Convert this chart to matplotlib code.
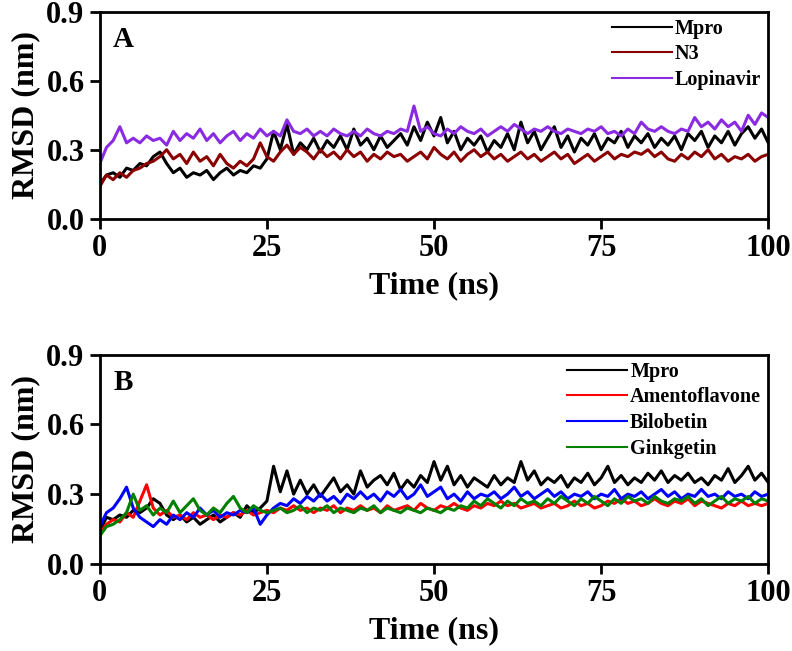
import matplotlib
matplotlib.use('Agg')
import matplotlib.pyplot as plt
import numpy as np

# time axis, 1 ns steps
time_ns = np.arange(0, 101)

# panel A
mpro_a = [0.15, 0.19, 0.20, 0.18, 0.22, 0.21, 0.24, 0.23, 0.27, 0.29,
          0.24, 0.20, 0.22, 0.18, 0.20, 0.19, 0.21, 0.17, 0.20, 0.22,
          0.19, 0.21, 0.20, 0.23, 0.22, 0.26, 0.38, 0.30, 0.41, 0.28,
          0.33, 0.30, 0.35, 0.29, 0.34, 0.31, 0.36, 0.30, 0.39, 0.32,
          0.35, 0.30, 0.36, 0.31, 0.34, 0.37, 0.32, 0.40, 0.34, 0.42,
          0.36, 0.44, 0.33, 0.38, 0.30, 0.35, 0.32, 0.36, 0.29, 0.34,
          0.31, 0.37, 0.30, 0.42, 0.33, 0.38, 0.30, 0.35, 0.40, 0.31,
          0.36, 0.29, 0.35, 0.32, 0.37, 0.30, 0.35, 0.33, 0.38, 0.31,
          0.36, 0.33, 0.37, 0.31, 0.35, 0.32, 0.36, 0.30, 0.37, 0.34,
          0.38, 0.31, 0.36, 0.33, 0.38, 0.32, 0.37, 0.40, 0.35, 0.39,
          0.33]
n3 = [0.14, 0.19, 0.17, 0.20, 0.18, 0.21, 0.22, 0.24, 0.25, 0.27,
      0.30, 0.26, 0.28, 0.24, 0.29, 0.25, 0.27, 0.23, 0.28, 0.24,
      0.22, 0.25, 0.23, 0.26, 0.33, 0.27, 0.25, 0.29, 0.32, 0.28,
      0.31, 0.29, 0.26, 0.30, 0.27, 0.29, 0.26, 0.30, 0.27, 0.29,
      0.25, 0.28, 0.26, 0.29, 0.27, 0.28, 0.25, 0.27, 0.29, 0.26,
      0.31, 0.28, 0.26, 0.29, 0.25, 0.28, 0.30, 0.27, 0.29, 0.26,
      0.28, 0.25, 0.27, 0.29, 0.26, 0.28, 0.25, 0.27, 0.29, 0.26,
      0.28, 0.24, 0.26, 0.28, 0.25, 0.27, 0.29, 0.26, 0.28, 0.27,
      0.29, 0.28, 0.30, 0.27, 0.29, 0.26, 0.25, 0.28, 0.26, 0.29,
      0.27, 0.30, 0.26, 0.28, 0.25, 0.27, 0.26, 0.28, 0.25, 0.27,
      0.28]
lopinavir = [0.24, 0.31, 0.34, 0.40, 0.33, 0.35, 0.33, 0.36, 0.34, 0.35,
             0.32, 0.38, 0.34, 0.37, 0.35, 0.39, 0.34, 0.37, 0.33, 0.36,
             0.38, 0.34, 0.37, 0.35, 0.39, 0.36, 0.38, 0.36, 0.43, 0.38,
             0.37, 0.39, 0.36, 0.38, 0.36, 0.39, 0.37, 0.36, 0.38, 0.36,
             0.39, 0.37, 0.36, 0.38, 0.37, 0.39, 0.38, 0.49, 0.38, 0.40,
             0.37, 0.36, 0.39, 0.37, 0.40, 0.38, 0.37, 0.39, 0.36, 0.38,
             0.40, 0.38, 0.41, 0.39, 0.37, 0.39, 0.38, 0.40, 0.38, 0.37,
             0.39, 0.38, 0.37, 0.39, 0.38, 0.40, 0.37, 0.38, 0.36, 0.39,
             0.37, 0.42, 0.39, 0.38, 0.40, 0.38, 0.37, 0.39, 0.38, 0.44,
             0.40, 0.42, 0.39, 0.43, 0.40, 0.42, 0.38, 0.45, 0.41, 0.46,
             0.44]

# panel B
mpro_b = [0.14, 0.20, 0.19, 0.21, 0.20, 0.23, 0.22, 0.24, 0.28, 0.26,
          0.21, 0.19, 0.21, 0.18, 0.20, 0.17, 0.19, 0.21, 0.18, 0.20,
          0.22, 0.20, 0.25, 0.22, 0.24, 0.27, 0.42, 0.31, 0.40, 0.30,
          0.36, 0.30, 0.34, 0.29, 0.33, 0.37, 0.31, 0.34, 0.30, 0.40,
          0.33, 0.36, 0.38, 0.34, 0.39, 0.32, 0.36, 0.33, 0.38, 0.35,
          0.44, 0.36, 0.42, 0.34, 0.38, 0.33, 0.37, 0.35, 0.33, 0.38,
          0.34, 0.37, 0.35, 0.44, 0.36, 0.40, 0.34, 0.37, 0.35, 0.38,
          0.33, 0.37, 0.35, 0.39, 0.34, 0.37, 0.42, 0.35, 0.38, 0.34,
          0.37, 0.35, 0.39, 0.36, 0.40, 0.35, 0.38, 0.36, 0.39, 0.35,
          0.37, 0.34, 0.38, 0.36, 0.41, 0.35, 0.38, 0.42, 0.36, 0.39,
          0.35]
amentoflavone = [0.13, 0.17, 0.19, 0.18, 0.22, 0.20, 0.27, 0.34, 0.24, 0.21,
                 0.23, 0.20, 0.21, 0.19, 0.22, 0.20, 0.21, 0.19, 0.21, 0.20,
                 0.22, 0.21, 0.23, 0.21, 0.22, 0.23, 0.22, 0.24, 0.23, 0.25,
                 0.23, 0.24, 0.22, 0.24, 0.23, 0.25, 0.22, 0.24, 0.23, 0.25,
                 0.23, 0.24, 0.22, 0.25, 0.23, 0.24, 0.25, 0.23, 0.26, 0.24,
                 0.23, 0.25, 0.24, 0.26, 0.24, 0.23, 0.25, 0.24, 0.26, 0.25,
                 0.27, 0.25, 0.26, 0.24, 0.25, 0.26, 0.24, 0.25, 0.26, 0.24,
                 0.25, 0.27, 0.25, 0.26, 0.24, 0.25, 0.27, 0.26, 0.28, 0.26,
                 0.27, 0.25, 0.26, 0.28, 0.26, 0.25, 0.27, 0.26, 0.28, 0.25,
                 0.27, 0.26, 0.25, 0.24, 0.26, 0.25, 0.27, 0.25, 0.26, 0.25,
                 0.26]
bilobetin = [0.16, 0.22, 0.24, 0.28, 0.33, 0.24, 0.20, 0.18, 0.16, 0.19,
             0.17, 0.21, 0.19, 0.22, 0.20, 0.24, 0.21, 0.23, 0.20, 0.22,
             0.21, 0.23, 0.22, 0.24, 0.17, 0.21, 0.24, 0.26, 0.25, 0.28,
             0.26, 0.29, 0.27, 0.30, 0.27, 0.29, 0.26, 0.30, 0.28, 0.31,
             0.28, 0.30, 0.27, 0.31, 0.29, 0.32, 0.28, 0.30, 0.34, 0.29,
             0.31, 0.33, 0.28, 0.30, 0.27, 0.31, 0.28, 0.30, 0.29, 0.31,
             0.28, 0.30, 0.33, 0.29, 0.31, 0.28, 0.30, 0.32, 0.29, 0.31,
             0.28, 0.30, 0.29, 0.31, 0.28, 0.30, 0.29, 0.32, 0.28, 0.30,
             0.29, 0.31, 0.28, 0.30, 0.32, 0.29, 0.31, 0.28, 0.30, 0.29,
             0.32, 0.29, 0.30, 0.28, 0.31, 0.29, 0.30, 0.28, 0.31, 0.29,
             0.30]
ginkgetin = [0.12, 0.16, 0.17, 0.19, 0.22, 0.30, 0.23, 0.25, 0.21, 0.24,
             0.22, 0.27, 0.22, 0.25, 0.28, 0.23, 0.21, 0.24, 0.22, 0.26,
             0.29, 0.24, 0.22, 0.25, 0.23, 0.22, 0.23, 0.24, 0.22, 0.23,
             0.25, 0.22, 0.24, 0.23, 0.25, 0.22, 0.24, 0.23, 0.22, 0.24,
             0.23, 0.25, 0.22, 0.24, 0.23, 0.22, 0.24, 0.23, 0.22, 0.24,
             0.23, 0.22, 0.24, 0.23, 0.25, 0.24, 0.27, 0.25, 0.28, 0.26,
             0.24, 0.27, 0.25, 0.28, 0.26, 0.27, 0.25, 0.28, 0.26, 0.29,
             0.27, 0.25, 0.28, 0.26, 0.29, 0.27, 0.25, 0.28, 0.26, 0.29,
             0.27, 0.28, 0.26, 0.29, 0.27, 0.26, 0.28, 0.27, 0.29, 0.26,
             0.28, 0.25, 0.27, 0.29, 0.26, 0.28, 0.27, 0.29, 0.26, 0.28,
             0.27]

plt.rcParams['font.family'] = ['Liberation Serif', 'DejaVu Serif']
plt.rcParams['font.weight'] = 'bold'

fig = plt.figure(figsize=(7.92, 6.51), dpi=100)
axA = fig.add_axes([0.126, 0.664, 0.844, 0.318])
axB = fig.add_axes([0.126, 0.134, 0.844, 0.321])

lw = 2.2
axA.plot(time_ns, mpro_a, color='black', lw=lw, label='Mpro')
axA.plot(time_ns, n3, color='#8b0000', lw=lw, label='N3')
axA.plot(time_ns, lopinavir, color='#8a2be2', lw=lw, label='Lopinavir')

axB.plot(time_ns, mpro_b, color='black', lw=lw, label='Mpro')
axB.plot(time_ns, amentoflavone, color='red', lw=lw, label='Amentoflavone')
axB.plot(time_ns, bilobetin, color='blue', lw=lw, label='Bilobetin')
axB.plot(time_ns, ginkgetin, color='green', lw=lw, label='Ginkgetin')

for ax, letter in [(axA, 'A'), (axB, 'B')]:
    ax.set_xlim(0, 100)
    ax.set_ylim(0, 0.9)
    ax.set_xticks([0, 25, 50, 75, 100])
    ax.set_yticks([0.0, 0.3, 0.6, 0.9])
    ax.set_yticklabels(['0.0', '0.3', '0.6', '0.9'])
    ax.tick_params(direction='out', length=7, width=2, labelsize=22, pad=4,
                   top=False, right=False)
    for s in ax.spines.values():
        s.set_linewidth(2)
    ax.set_xlabel('Time (ns)', fontsize=23, fontweight='bold', labelpad=6)
    ax.set_ylabel('RMSD (nm)', fontsize=23, fontweight='bold', labelpad=4)
    ax.text(0.02, 0.93, letter, transform=ax.transAxes, fontsize=21,
            fontweight='bold', va='top', ha='left')
    leg = ax.legend(loc='upper right', frameon=False, fontsize=14.5,
                    handlelength=3.0, handletextpad=0.15, labelspacing=0.28,
                    borderpad=0.2, borderaxespad=0.15)
    for line in leg.get_lines():
        line.set_linewidth(1.5)

fig.savefig('out.png', dpi=100)
